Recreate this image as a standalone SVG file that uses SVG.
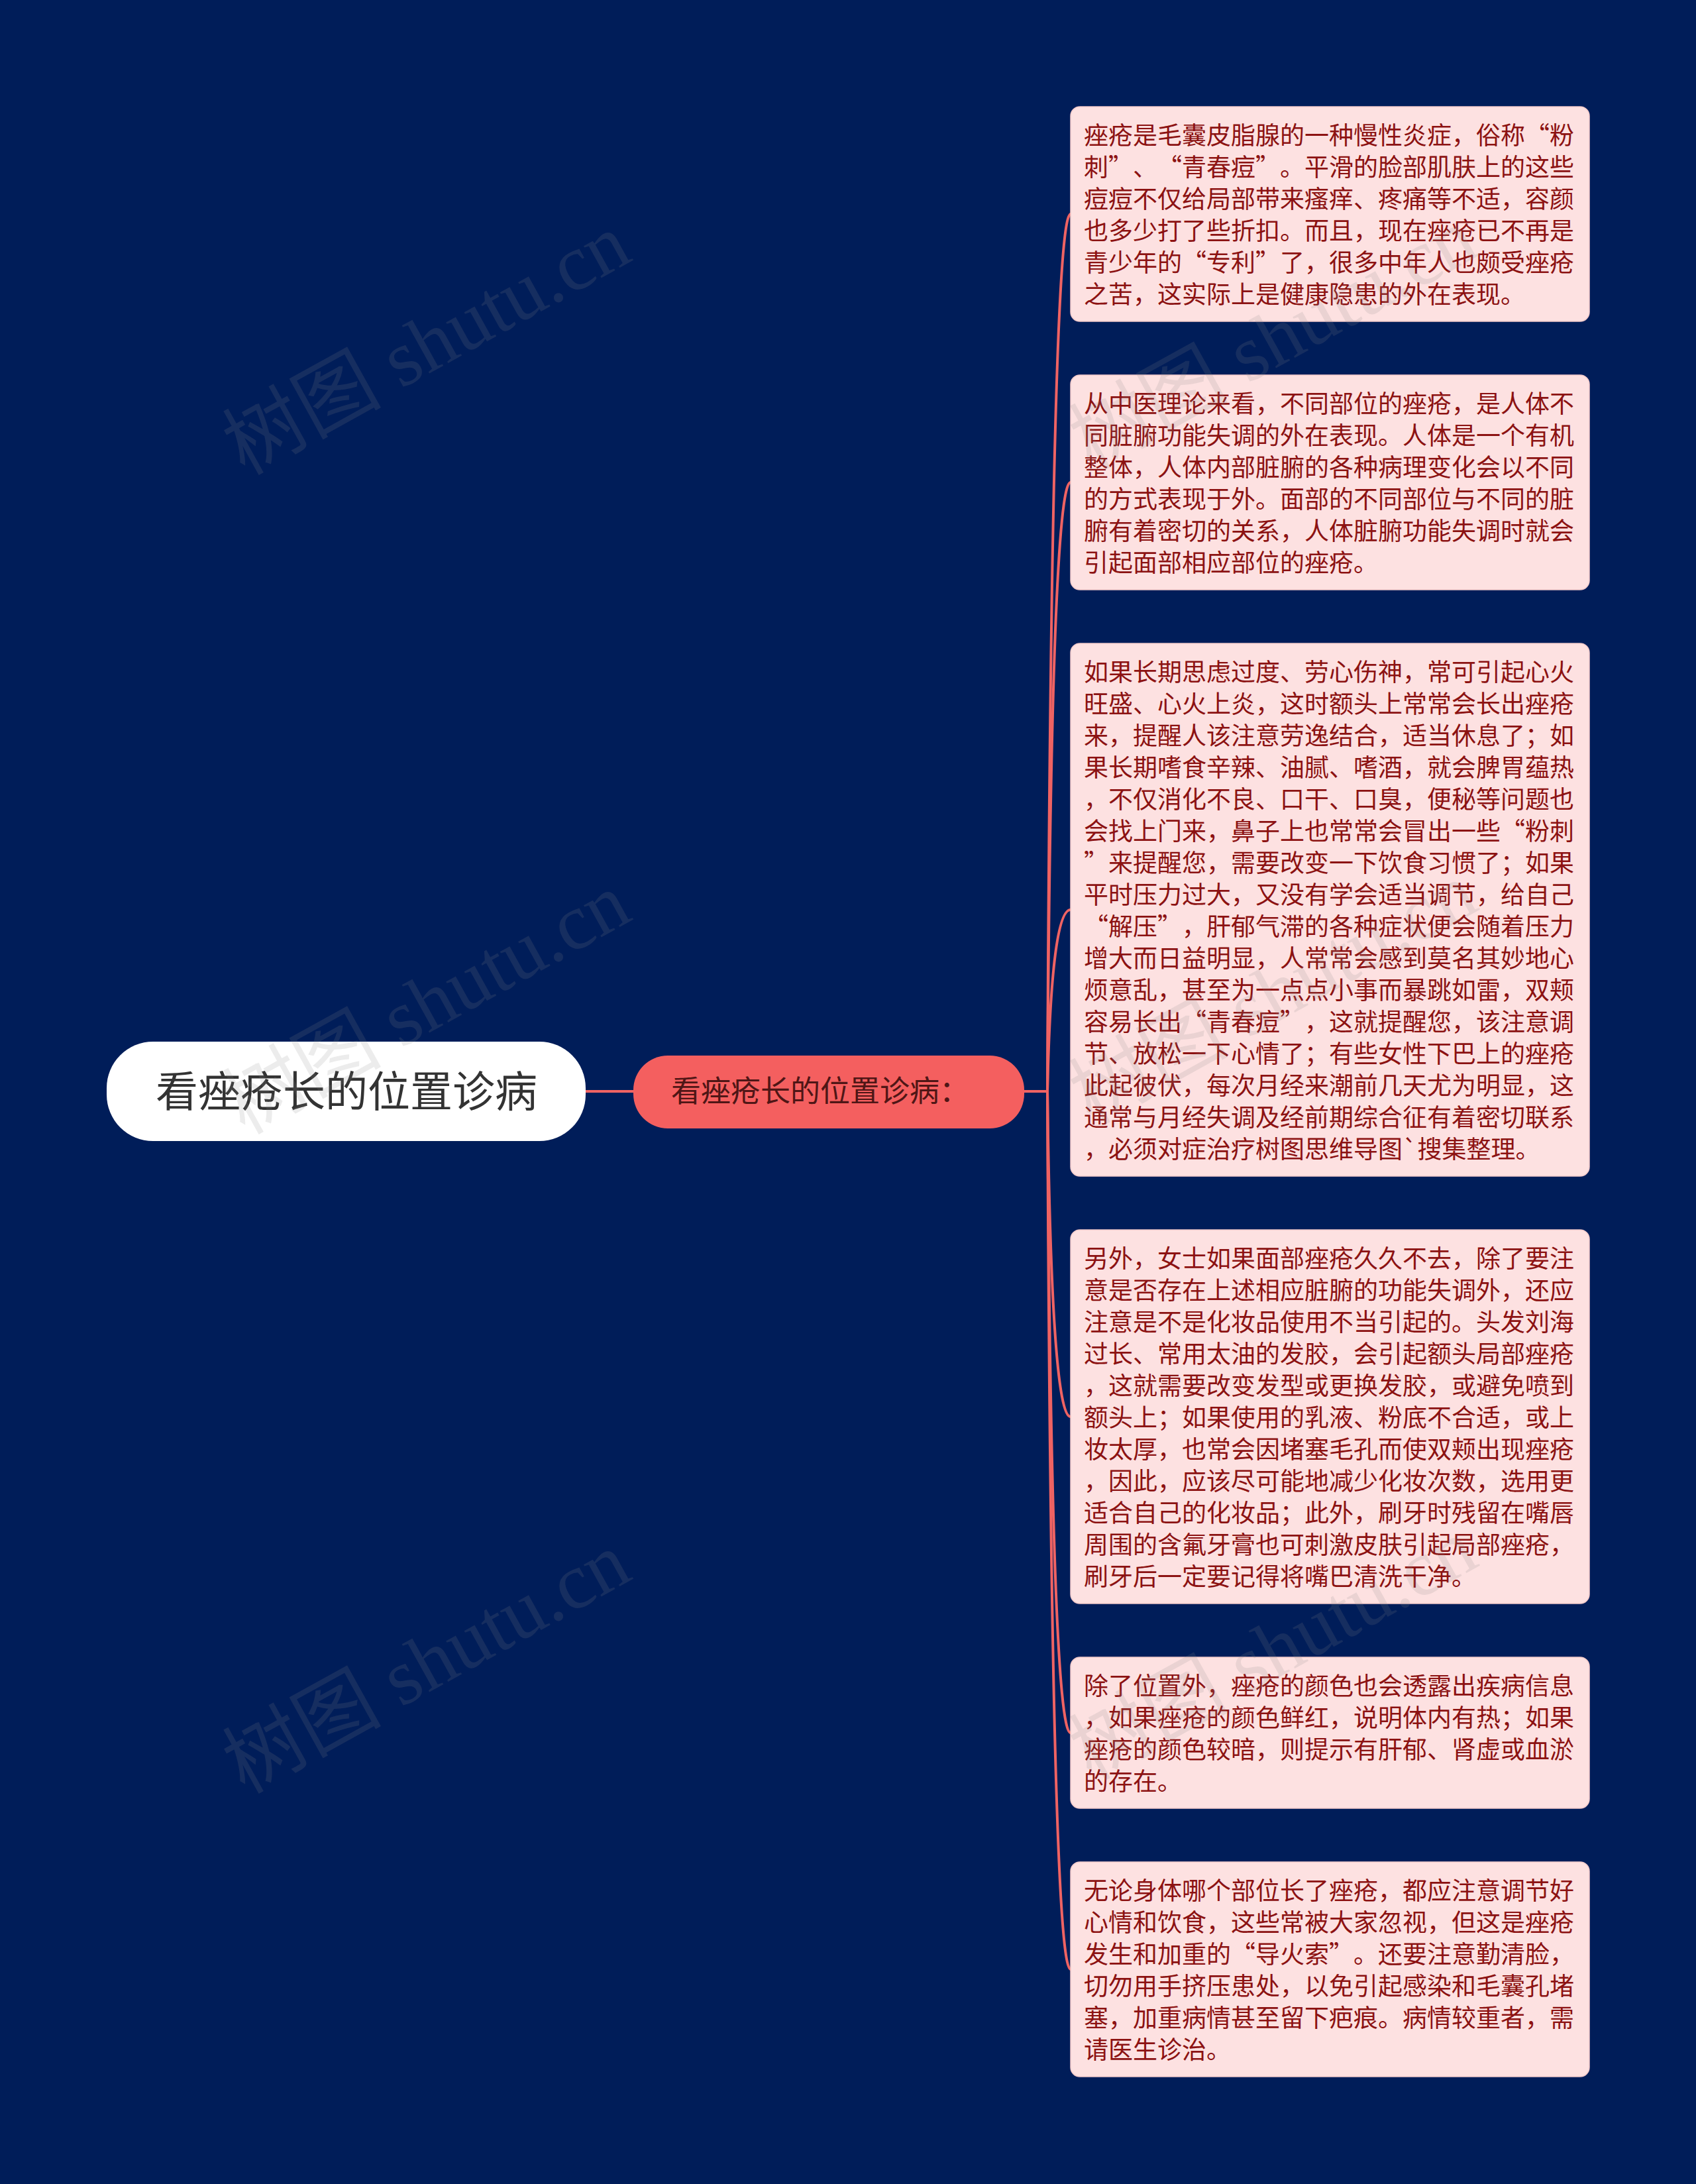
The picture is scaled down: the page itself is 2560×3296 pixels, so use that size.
<svg xmlns="http://www.w3.org/2000/svg" width="2560" height="3296" viewBox="0 0 2560 3296">
<style>
.bg{fill:#001d59}
.box{fill:#fde1e1;stroke:#f3caca;stroke-width:1.5}
.bt{font-family:"Noto Sans CJK SC","Microsoft YaHei",sans-serif;font-size:37px;fill:#8c1212;text-spacing-trim:space-all}
.conn{fill:none;stroke:#ef6363;stroke-width:4;stroke-linecap:round}
.wm{font-family:"Liberation Serif","Noto Sans CJK SC",serif;font-size:120px;fill:#8a8a8a;fill-opacity:0.16}
</style>
<rect class="bg" x="0" y="0" width="2560" height="3296"/>
<g id="connectors">
<path class="conn" d="M884 1647 L956 1647"/>
<path class="conn" d="M1546 1647 L1581 1647"/>
<path class="conn" d="M1581 1647 Q1587 323 1616 323"/>
<path class="conn" d="M1581 1647 Q1587 728 1616 728"/>
<path class="conn" d="M1581 1647 Q1587 1373 1616 1373"/>
<path class="conn" d="M1581 1647 Q1587 2138 1616 2138"/>
<path class="conn" d="M1581 1647 Q1587 2615 1616 2615"/>
<path class="conn" d="M1581 1647 Q1587 2972 1616 2972"/>
</g>
<g id="root">
<rect x="161" y="1572" width="723" height="150" rx="70" ry="70" fill="#ffffff"/>
<text x="523" y="1670" text-anchor="middle" font-family="Noto Sans CJK SC, Microsoft YaHei, sans-serif" font-size="64" fill="#333333">看痤疮长的位置诊病</text>
</g>
<g id="sub">
<rect x="956" y="1593" width="590" height="110" rx="52" ry="52" fill="#f45f5f"/>
<text x="1238" y="1663" text-anchor="middle" font-family="Noto Sans CJK SC, Microsoft YaHei, sans-serif" font-size="45" fill="#4f1616" style="text-spacing-trim:space-all">看痤疮长的位置诊病：</text>
</g>
<g id="n1">
<rect class="box" x="1616" y="161" width="783" height="324" rx="14"/>
<text class="bt" x="1636" y="218"><tspan x="1636">痤疮是毛囊皮脂腺的一种慢性炎症，俗称“粉</tspan><tspan x="1636" dy="48">刺”、“青春痘”。平滑的脸部肌肤上的这些</tspan><tspan x="1636" dy="48">痘痘不仅给局部带来瘙痒、疼痛等不适，容颜</tspan><tspan x="1636" dy="48">也多少打了些折扣。而且，现在痤疮已不再是</tspan><tspan x="1636" dy="48">青少年的“专利”了，很多中年人也颇受痤疮</tspan><tspan x="1636" dy="48">之苦，这实际上是健康隐患的外在表现。</tspan></text>
</g>
<g id="n2">
<rect class="box" x="1616" y="566" width="783" height="324" rx="14"/>
<text class="bt" x="1636" y="623"><tspan x="1636">从中医理论来看，不同部位的痤疮，是人体不</tspan><tspan x="1636" dy="48">同脏腑功能失调的外在表现。人体是一个有机</tspan><tspan x="1636" dy="48">整体，人体内部脏腑的各种病理变化会以不同</tspan><tspan x="1636" dy="48">的方式表现于外。面部的不同部位与不同的脏</tspan><tspan x="1636" dy="48">腑有着密切的关系，人体脏腑功能失调时就会</tspan><tspan x="1636" dy="48">引起面部相应部位的痤疮。</tspan></text>
</g>
<g id="n3">
<rect class="box" x="1616" y="971" width="783" height="804" rx="14"/>
<text class="bt" x="1636" y="1028"><tspan x="1636">如果长期思虑过度、劳心伤神，常可引起心火</tspan><tspan x="1636" dy="48">旺盛、心火上炎，这时额头上常常会长出痤疮</tspan><tspan x="1636" dy="48">来，提醒人该注意劳逸结合，适当休息了；如</tspan><tspan x="1636" dy="48">果长期嗜食辛辣、油腻、嗜酒，就会脾胃蕴热</tspan><tspan x="1636" dy="48">，不仅消化不良、口干、口臭，便秘等问题也</tspan><tspan x="1636" dy="48">会找上门来，鼻子上也常常会冒出一些“粉刺</tspan><tspan x="1636" dy="48">”来提醒您，需要改变一下饮食习惯了；如果</tspan><tspan x="1636" dy="48">平时压力过大，又没有学会适当调节，给自己</tspan><tspan x="1636" dy="48">“解压”，肝郁气滞的各种症状便会随着压力</tspan><tspan x="1636" dy="48">增大而日益明显，人常常会感到莫名其妙地心</tspan><tspan x="1636" dy="48">烦意乱，甚至为一点点小事而暴跳如雷，双颊</tspan><tspan x="1636" dy="48">容易长出“青春痘”，这就提醒您，该注意调</tspan><tspan x="1636" dy="48">节、放松一下心情了；有些女性下巴上的痤疮</tspan><tspan x="1636" dy="48">此起彼伏，每次月经来潮前几天尤为明显，这</tspan><tspan x="1636" dy="48">通常与月经失调及经前期综合征有着密切联系</tspan><tspan x="1636" dy="48">，必须对症治疗树图思维导图`搜集整理。</tspan></text>
</g>
<g id="n4">
<rect class="box" x="1616" y="1856" width="783" height="564" rx="14"/>
<text class="bt" x="1636" y="1913"><tspan x="1636">另外，女士如果面部痤疮久久不去，除了要注</tspan><tspan x="1636" dy="48">意是否存在上述相应脏腑的功能失调外，还应</tspan><tspan x="1636" dy="48">注意是不是化妆品使用不当引起的。头发刘海</tspan><tspan x="1636" dy="48">过长、常用太油的发胶，会引起额头局部痤疮</tspan><tspan x="1636" dy="48">，这就需要改变发型或更换发胶，或避免喷到</tspan><tspan x="1636" dy="48">额头上；如果使用的乳液、粉底不合适，或上</tspan><tspan x="1636" dy="48">妆太厚，也常会因堵塞毛孔而使双颊出现痤疮</tspan><tspan x="1636" dy="48">，因此，应该尽可能地减少化妆次数，选用更</tspan><tspan x="1636" dy="48">适合自己的化妆品；此外，刷牙时残留在嘴唇</tspan><tspan x="1636" dy="48">周围的含氟牙膏也可刺激皮肤引起局部痤疮，</tspan><tspan x="1636" dy="48">刷牙后一定要记得将嘴巴清洗干净。</tspan></text>
</g>
<g id="n5">
<rect class="box" x="1616" y="2501" width="783" height="228" rx="14"/>
<text class="bt" x="1636" y="2558"><tspan x="1636">除了位置外，痤疮的颜色也会透露出疾病信息</tspan><tspan x="1636" dy="48">，如果痤疮的颜色鲜红，说明体内有热；如果</tspan><tspan x="1636" dy="48">痤疮的颜色较暗，则提示有肝郁、肾虚或血淤</tspan><tspan x="1636" dy="48">的存在。</tspan></text>
</g>
<g id="n6">
<rect class="box" x="1616" y="2810" width="783" height="324" rx="14"/>
<text class="bt" x="1636" y="2867"><tspan x="1636">无论身体哪个部位长了痤疮，都应注意调节好</tspan><tspan x="1636" dy="48">心情和饮食，这些常被大家忽视，但这是痤疮</tspan><tspan x="1636" dy="48">发生和加重的“导火索”。还要注意勤清脸，</tspan><tspan x="1636" dy="48">切勿用手挤压患处，以免引起感染和毛囊孔堵</tspan><tspan x="1636" dy="48">塞，加重病情甚至留下疤痕。病情较重者，需</tspan><tspan x="1636" dy="48">请医生诊治。</tspan></text>
</g>
<g id="watermarks">
<text class="wm" x="644" y="560" text-anchor="middle" transform="rotate(-29 644 520)">树图 shutu.cn</text>
<text class="wm" x="644" y="1555" text-anchor="middle" transform="rotate(-29 644 1515)">树图 shutu.cn</text>
<text class="wm" x="644" y="2550" text-anchor="middle" transform="rotate(-29 644 2510)">树图 shutu.cn</text>
<text class="wm" x="1922" y="552" text-anchor="middle" transform="rotate(-29 1922 512)">树图 shutu.cn</text>
<text class="wm" x="1922" y="1540" text-anchor="middle" transform="rotate(-29 1922 1500)">树图 shutu.cn</text>
<text class="wm" x="1922" y="2530" text-anchor="middle" transform="rotate(-29 1922 2490)">树图 shutu.cn</text>
</g>
</svg>
